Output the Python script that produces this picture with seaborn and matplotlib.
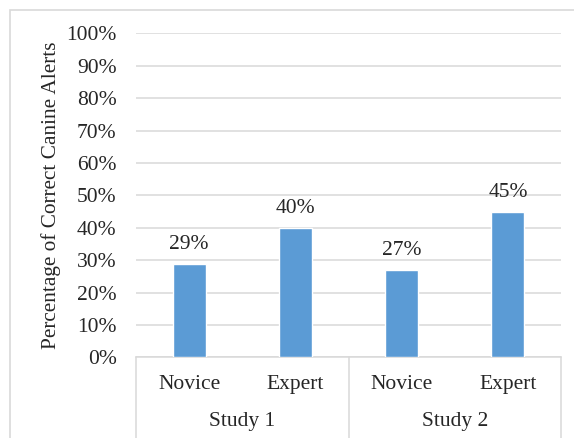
import matplotlib
matplotlib.use("Agg")
import matplotlib.pyplot as plt
import matplotlib.patches as patches
import matplotlib.transforms as mtransforms
import seaborn as sns
import pandas as pd

# data
studies = ["Study 1", "Study 1", "Study 2", "Study 2"]
groups = ["Novice", "Expert", "Novice", "Expert"]
values = [29, 40, 27, 45]
study_names = ["Study 1", "Study 2"]

df = pd.DataFrame({"study": studies, "group": groups, "value": values})
df["key"] = df["study"] + " " + df["group"]

sns.set_style("white")
plt.rcParams["font.family"] = ["Liberation Serif", "DejaVu Serif"]

fig = plt.figure(figsize=(5.74, 4.38), dpi=100)
ax = fig.add_axes([0.2369, 0.1838, 0.7405, 0.7399])

sns.barplot(data=df, x="key", y="value", color="#5B9BD5", width=0.31,
            saturation=1, ax=ax, zorder=3)

fs = 15.5
ax.set_ylim(0, 100)
ax.set_xlim(-0.5, 3.5)
ax.set_yticks(range(0, 101, 10))
ax.set_yticklabels([f"{v}%" for v in range(0, 101, 10)], fontsize=fs)
ax.tick_params(axis="y", length=0, pad=14)
ax.set_xticks([])
ax.set_xlabel("")
ax.set_ylabel("Percentage of Correct Canine Alerts", fontsize=15.3, labelpad=4)
ax.yaxis.grid(True, color="#D9D9D9", linewidth=1.1, zorder=0)
for s in ["left", "right", "top"]:
    ax.spines[s].set_visible(False)
ax.spines["bottom"].set_color("#D9D9D9")
ax.spines["bottom"].set_linewidth(1.1)

# value labels
for i, v in enumerate(values):
    ax.annotate(f"{v}%", (i, v), xytext=(0, 7), textcoords="offset points",
                ha="center", va="bottom", fontsize=fs)

# multi-level category axis
trans = mtransforms.blended_transform_factory(ax.transData, ax.transAxes)
for i, g in enumerate(groups):
    ax.text(i, -0.082, g, transform=trans, ha="center", va="center", fontsize=fs)
for j, s in enumerate(study_names):
    ax.text(2 * j + 0.5, -0.198, s, transform=trans, ha="center", va="center", fontsize=fs)
for xb in [-0.5, 1.5, 3.5]:
    ax.plot([xb, xb], [0, -0.3], transform=trans, color="#D9D9D9",
            linewidth=1.1, clip_on=False)

# chart area border
fig.patches.append(patches.Rectangle((0.0174, -0.1), 1.2, 0.977 + 0.1,
                                     transform=fig.transFigure, fill=False,
                                     edgecolor="#D9D9D9", linewidth=1.2))

fig.savefig("out.png", dpi=100)
